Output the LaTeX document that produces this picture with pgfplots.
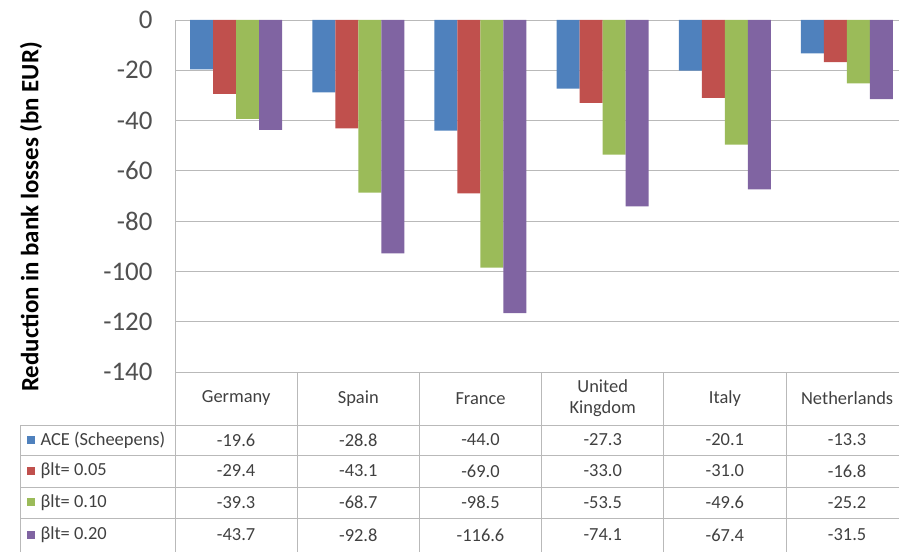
\documentclass[border=0pt]{standalone}
\usepackage{pgfplots}
\pgfplotsset{compat=1.18}
\usepackage{pgfplotstable}
\usepackage{fontspec}
\setmainfont{Carlito}
\definecolor{cBlue}{RGB}{79,129,189}
\definecolor{cRed}{RGB}{192,80,77}
\definecolor{cGreen}{RGB}{155,187,89}
\definecolor{cPurple}{RGB}{128,100,162}
\definecolor{cGrid}{RGB}{185,185,185}
\definecolor{cText}{RGB}{64,64,64}
\definecolor{cTick}{RGB}{80,80,80}
\pgfplotstableread{
x ace b05 b10 b20
0 -19.6 -29.4 -39.3 -43.7
1 -28.8 -43.1 -68.7 -92.8
2 -44.0 -69.0 -98.5 -116.6
3 -27.3 -33.0 -53.5 -74.1
4 -20.1 -31.0 -49.6 -67.4
5 -13.3 -16.8 -25.2 -31.5
}\data
\begin{document}
\begin{tikzpicture}
\clip (0,0) rectangle (899bp,552bp);
\path[use as bounding box] (0,0) rectangle (899bp,552bp);
\begin{axis}[
  at={(175bp,180bp)}, anchor=south west,
  scale only axis, width=733bp, height=352bp,
  xmin=-0.5, xmax=5.5, ymin=-140, ymax=0,
  ybar=0pt, bar width=23bp,
  axis x line=none, axis y line*=left,
  axis line style={draw=cGrid, line width=0.8bp},
  xtick=\empty,
  ytick={-140,-120,-100,-80,-60,-40,-20,0},
  ymajorgrids, grid style={draw=cGrid, line width=0.8bp},
  major tick length=0pt,
  /pgf/number format/assume math mode=true,
  yticklabel style={font=\fontsize{27}{30}\selectfont, text=cTick, xshift=-19bp},
  clip=false,
]
\addplot[fill=cBlue, draw=none] table[x=x,y=ace]{\data};
\addplot[fill=cRed, draw=none] table[x=x,y=b05]{\data};
\addplot[fill=cGreen, draw=none] table[x=x,y=b10]{\data};
\addplot[fill=cPurple, draw=none] table[x=x,y=b20]{\data};
\end{axis}
\node[rotate=90, font=\fontsize{25}{28}\selectfont\bfseries] at (31bp,335bp) {Reduction in bank losses (bn EUR)};
% data table
\begin{scope}[cGrid, line width=0.9bp]
\draw (175bp,180bp) -- (899bp,180bp);
\foreach \yy in {127,97,65,34} \draw (20bp,\yy bp) -- (899bp,\yy bp);
\draw (20bp,0bp) -- (20bp,127bp);
\draw (175bp,0bp) -- (175bp,180bp);
\foreach \xx in {297.2,419.4,541.6,663.8,786.0} \draw (\xx bp,0bp) -- (\xx bp,180bp);
\end{scope}
\begin{scope}[every node/.style={font=\fontsize{18.5}{20}\selectfont, text=cText}]
\node at (236.1bp,153.5bp) {Germany};
\node at (358.3bp,153.5bp) {Spain};
\node at (480.5bp,153.5bp) {France};
\node[align=center, font=\fontsize{18.5}{21}\selectfont] at (602.7bp,153.5bp) {United\\Kingdom};
\node at (724.9bp,153.5bp) {Italy};
\node at (847.1bp,153.5bp) {Netherlands};
% legend column
\fill[cBlue] (27bp,108bp) rectangle (35bp,116bp);
\node[anchor=west] at (37bp,112bp) {ACE (Scheepens)};
\fill[cRed] (27bp,77bp) rectangle (35bp,85bp);
\node[anchor=west] at (37bp,81bp) {βlt= 0.05};
\fill[cGreen] (27bp,45.5bp) rectangle (35bp,53.5bp);
\node[anchor=west] at (37bp,49.5bp) {βlt= 0.10};
\fill[cPurple] (27bp,13bp) rectangle (35bp,21bp);
\node[anchor=west] at (37bp,17bp) {βlt= 0.20};
% values
\foreach \v [count=\i from 0] in {-19.6,-28.8,-44.0,-27.3,-20.1,-13.3}
  \node at (236.1bp+\i*122.2bp,112bp) {\v};
\foreach \v [count=\i from 0] in {-29.4,-43.1,-69.0,-33.0,-31.0,-16.8}
  \node at (236.1bp+\i*122.2bp,81bp) {\v};
\foreach \v [count=\i from 0] in {-39.3,-68.7,-98.5,-53.5,-49.6,-25.2}
  \node at (236.1bp+\i*122.2bp,49.5bp) {\v};
\foreach \v [count=\i from 0] in {-43.7,-92.8,-116.6,-74.1,-67.4,-31.5}
  \node at (236.1bp+\i*122.2bp,17bp) {\v};
\end{scope}
\end{tikzpicture}
\end{document}
